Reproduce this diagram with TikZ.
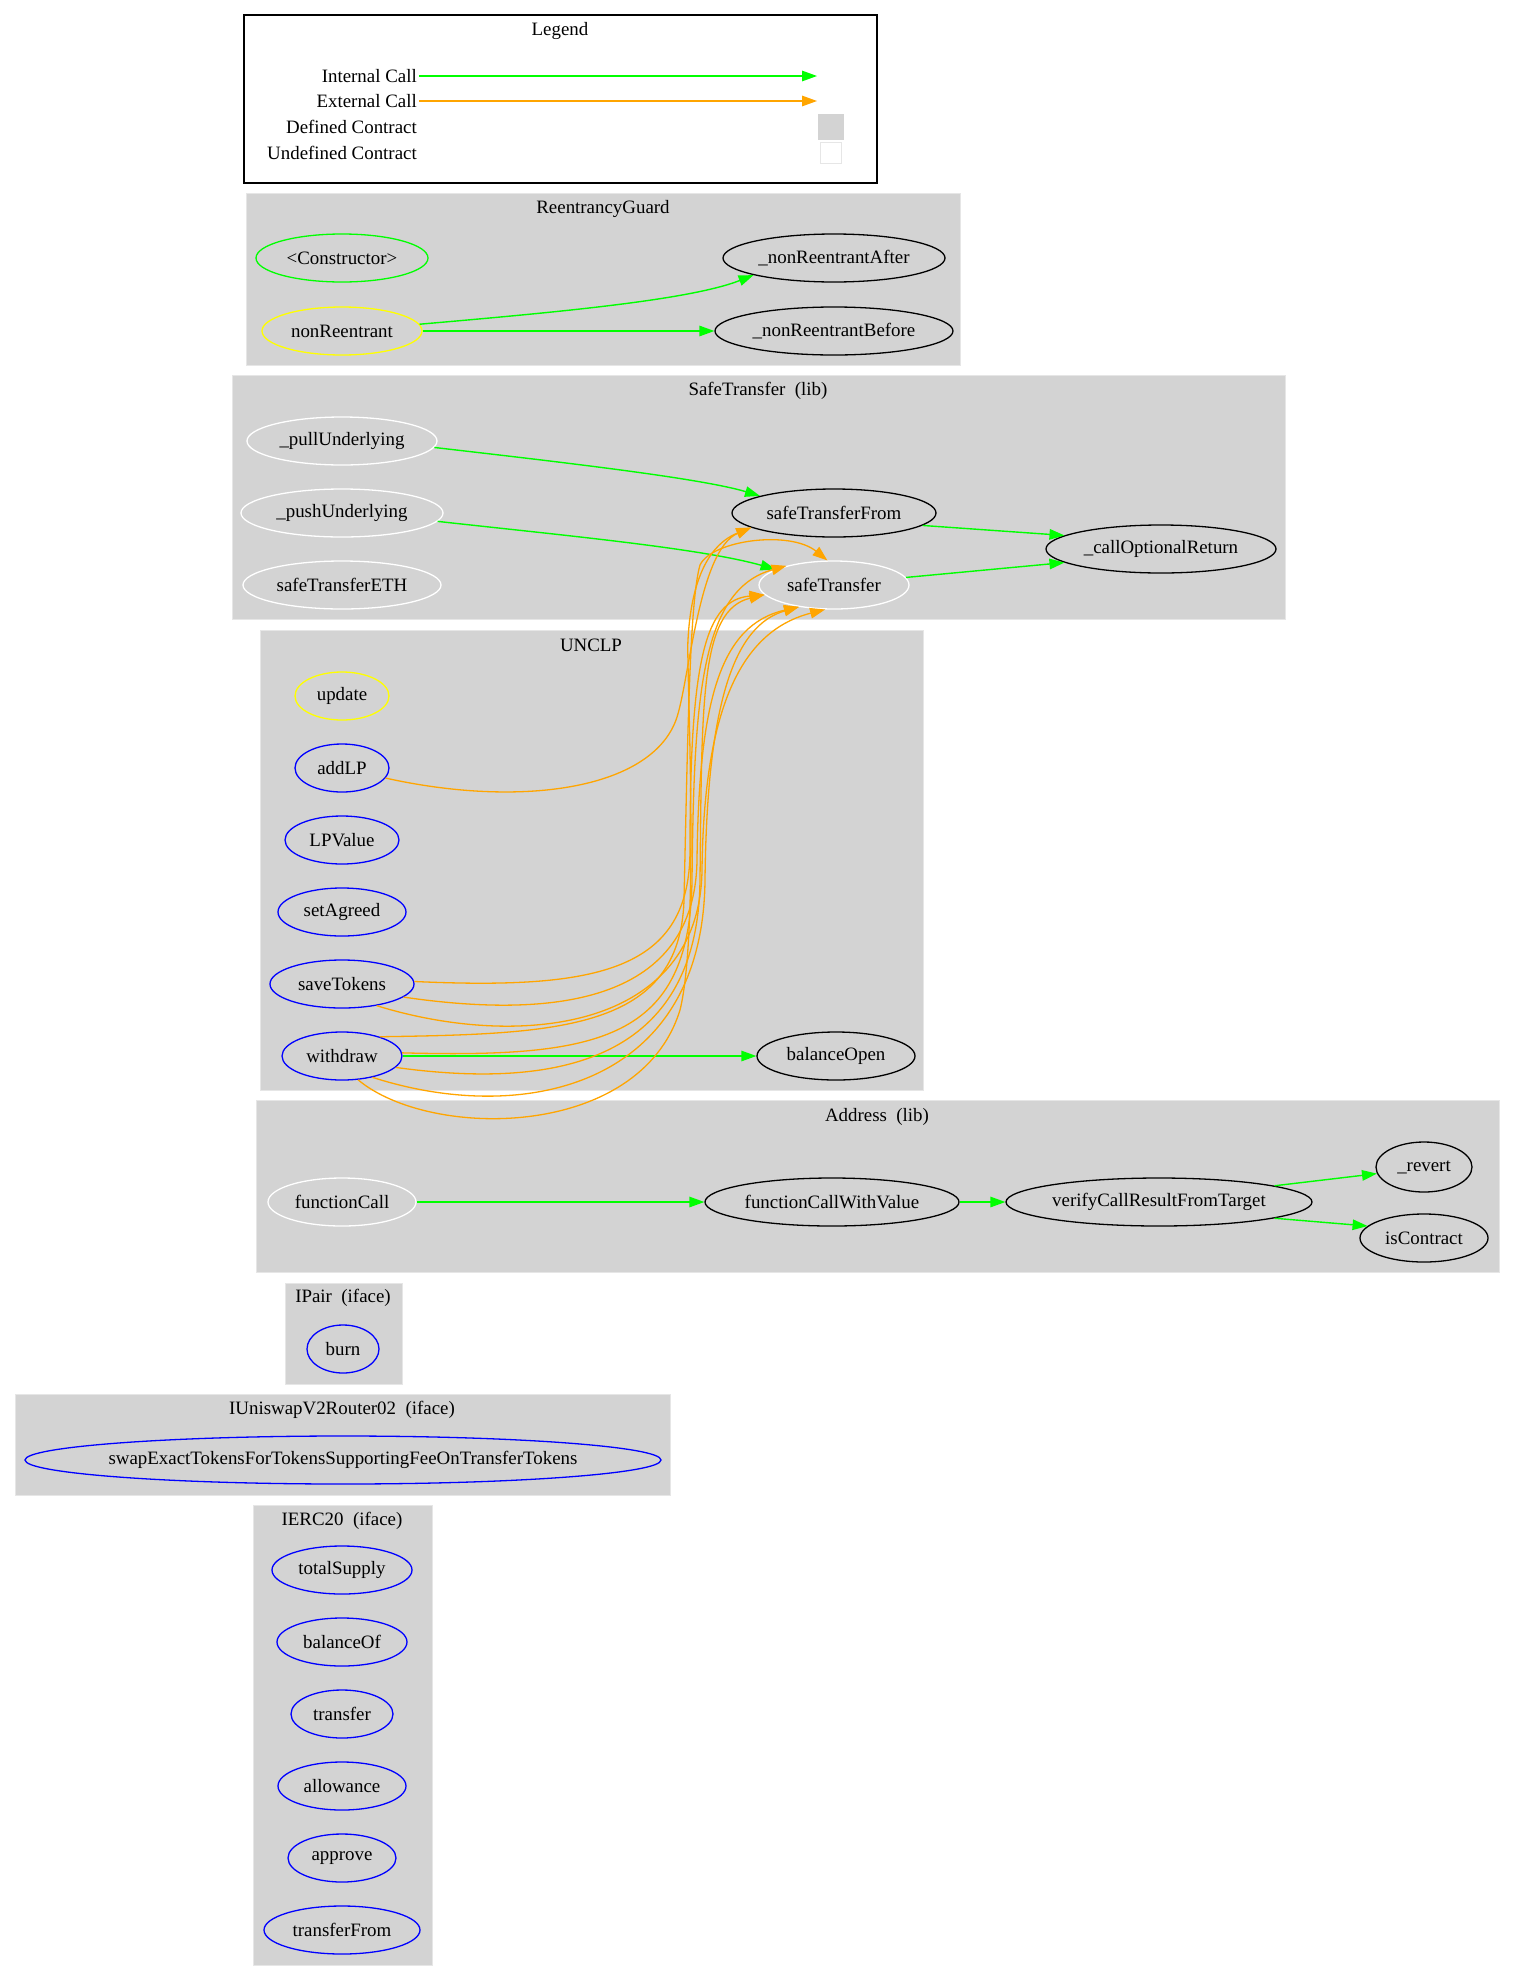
\documentclass[tikz,border=0pt]{standalone}
\usepackage{fontspec}
\setmainfont{Liberation Serif}
\usetikzlibrary{arrows.meta,shapes.geometric}
\definecolor{clgray}{HTML}{D3D3D3}
\definecolor{clborder}{HTML}{E6E6E6}
\definecolor{ggreen}{HTML}{00FF00}
\definecolor{gorange}{HTML}{FFA500}
\definecolor{gyellow}{HTML}{FFFF00}
\definecolor{gblue}{HTML}{0000FF}
\newcommand\grfont{\fontsize{18.9}{22.5}\selectfont}
\newcommand\nt[1]{\makebox[0pt]{#1}}
\begin{document}
\begin{tikzpicture}[x=1pt,y=-1pt,
  every node/.style={font=\grfont},
  fn/.style={ellipse, draw=#1, line width=1.3pt, inner sep=0pt, minimum height=48pt},
  cl/.style={fill=clgray, draw=clborder, line width=1pt},
  ttl/.style={inner sep=0pt},
  int/.style={draw=ggreen, line width=1.4pt, -{Triangle[length=15pt,width=10.5pt]}},
  ext/.style={draw=gorange, line width=1.3pt, -{Triangle[length=15pt,width=10.5pt]}},
]
\useasboundingbox[fill=white] (0,0) rectangle (1513,1981);

% ---------- Legend ----------
\draw[line width=1.3pt] (244,15) rectangle (877,183);
\node[ttl] (legtitle) at (560,31) {Legend};
\node[anchor=east, inner sep=2pt] (lt1) at (419,76) {Internal Call};
\node[anchor=east, inner sep=2pt] (lt2) at (419,101) {External Call};
\node[anchor=east, inner sep=2pt] (lt3) at (419,127) {Defined Contract};
\node[anchor=east, inner sep=2pt] (lt4) at (419,153) {Undefined Contract};
\coordinate (lh1) at (817,76);
\coordinate (lh2) at (817,101);
\draw[int] (lt1.east) -- (lh1);
\draw[ext] (lt2.east) -- (lh2);
\node[rectangle, fill=clgray, draw=clgray, minimum width=25pt, minimum height=25pt, inner sep=0pt] (ldef) at (831,127) {};
\node[rectangle, fill=white, draw=clborder, line width=1.3pt, minimum width=21pt, minimum height=21pt, inner sep=0pt] (lundef) at (831,153) {};

% ---------- Clusters ----------
\fill[cl] (246,193) rectangle (960,365);
\node[ttl] (tRG) at (603,209) {ReentrancyGuard};
\fill[cl] (232,375) rectangle (1285,619);
\node[ttl] (tST) at (758,391) {SafeTransfer\ \ (lib)};
\fill[cl] (260,630) rectangle (923,1090);
\node[ttl] (tUN) at (591,645) {UNCLP};
\fill[cl] (256,1100) rectangle (1499,1272);
\node[ttl] (tAD) at (877,1117) {Address\ \ (lib)};
\fill[cl] (285,1283) rectangle (402,1384);
\node[ttl] (tIP) at (343,1298) {IPair\ \ (iface)};
\fill[cl] (15,1394) rectangle (670,1495);
\node[ttl] (tIU) at (342,1410) {IUniswapV2Router02\ \ (iface)};
\fill[cl] (253,1505) rectangle (432,1965);
\node[ttl] (tIE) at (342,1521) {IERC20\ \ (iface)};

% ---------- ReentrancyGuard ----------
\node[fn=ggreen, minimum width=172pt] (ctor) at (342,258) {\nt{\textless Constructor\textgreater}};
\node[fn=gyellow, minimum width=160pt] (nR) at (342,331) {\nt{nonReentrant}};
\node[fn=black, minimum width=222pt] (nRA) at (834,258) {\nt{\_nonReentrantAfter}};
\node[fn=black, minimum width=238pt] (nRB) at (834,331) {\nt{\_nonReentrantBefore}};

% ---------- SafeTransfer ----------
\node[fn=white, minimum width=190pt] (pU) at (342,441) {\nt{\_pullUnderlying}};
\node[fn=white, minimum width=202pt] (pushU) at (342,513) {\nt{\_pushUnderlying}};
\node[fn=white, minimum width=198pt] (sTE) at (342,585) {\nt{safeTransferETH}};
\node[fn=black, minimum width=204pt] (sTF) at (834,513) {\nt{safeTransferFrom}};
\node[fn=white, minimum width=150pt] (sT) at (834,585) {\nt{safeTransfer}};
\node[fn=black, minimum width=230pt] (cOR) at (1161,549) {\nt{\_callOptionalReturn}};

% ---------- UNCLP ----------
\node[fn=gyellow, minimum width=94pt] (update) at (342,696) {\nt{update}};
\node[fn=gblue, minimum width=94pt] (addLP) at (342,768) {\nt{addLP}};
\node[fn=gblue, minimum width=114pt] (LPValue) at (342,840) {\nt{LPValue}};
\node[fn=gblue, minimum width=128pt] (setAgreed) at (342,912) {\nt{setAgreed}};
\node[fn=gblue, minimum width=144pt] (sv) at (342,984) {\nt{saveTokens}};
\node[fn=gblue, minimum width=120pt] (wd) at (342,1056) {\nt{withdraw}};
\node[fn=black, minimum width=158pt] (bO) at (836,1056) {\nt{balanceOpen}};

% ---------- Address ----------
\node[fn=white, minimum width=148pt] (fc) at (342,1202) {\nt{functionCall}};
\node[fn=black, minimum width=254pt] (fCWV) at (832,1202) {\nt{functionCallWithValue}};
\node[fn=black, minimum width=306pt] (vC) at (1159,1202) {\nt{verifyCallResultFromTarget}};
\node[fn=black, minimum width=96pt, minimum height=50pt] (rev) at (1424,1167) {\nt{\_revert}};
\node[fn=black, minimum width=128pt] (iC) at (1424,1238) {\nt{isContract}};

% ---------- IPair ----------
\node[fn=gblue, minimum width=72pt] (burn) at (343,1349) {\nt{burn}};

% ---------- IUniswapV2Router02 ----------
\node[fn=gblue, minimum width=636pt] (swap) at (343,1460) {\nt{swapExactTokensForTokensSupportingFeeOnTransferTokens}};

% ---------- IERC20 ----------
\node[fn=gblue, minimum width=140pt] (tS) at (342,1570) {\nt{totalSupply}};
\node[fn=gblue, minimum width=130pt] (bOf) at (342,1642) {\nt{balanceOf}};
\node[fn=gblue, minimum width=102pt] (tr) at (342,1714) {\nt{transfer}};
\node[fn=gblue, minimum width=128pt] (al) at (342,1786) {\nt{allowance}};
\node[fn=gblue, minimum width=108pt] (ap) at (342,1858) {\nt{approve}};
\node[fn=gblue, minimum width=156pt] (tF) at (342,1930) {\nt{transferFrom}};

% ---------- Internal calls ----------
\draw[int] (nR.5) .. controls (560,312) and (690,300) .. (nRA.192);
\draw[int] (nR.east) -- (nRB.west);
\draw[int] (pU.-4) .. controls (560,462) and (700,478) .. (sTF.167);
\draw[int] (pushU.-5) .. controls (560,535) and (700,548) .. (sT.165);
\draw[int] (sTF.-8) -- (cOR.172);
\draw[int] (sT.6) -- (cOR.188);
\draw[int] (wd.east) -- (bO.west);
\draw[int] (fc.east) -- (fCWV.west);
\draw[int] (fCWV.east) -- (vC.west);
\draw[int] (vC.8) -- (rev.188);
\draw[int] (vC.-8) -- (iC.168);

% ---------- External calls ----------
\draw[ext] (addLP.-13) .. controls (520,808) and (650,790) .. (676,720)
  .. controls (689,685) and (698,550) .. (sTF.190);
\draw[ext] (sv.2) .. controls (600,990) and (690,970) .. (690,850)
  .. controls (690,660) and (705,600) .. (sT.188);
\draw[ext] (sv.-12) .. controls (560,1020) and (695,1000) .. (697,860)
  .. controls (699,700) and (720,625) .. (sT.212);
\draw[ext] (sv.-32) .. controls (520,1050) and (700,1030) .. (702,870)
  .. controls (704,700) and (745,630) .. (sT.250);
\draw[ext] (wd.27) .. controls (560,1034) and (680,1030) .. (684,900)
  .. controls (688,720) and (690,600) .. (700,565)
  .. controls (712,540) and (790,530) .. (sT.105);
\draw[ext] (wd.3) .. controls (600,1058) and (690,1040) .. (692,880)
  .. controls (694,700) and (700,590) .. (sT.158);
\draw[ext] (wd.-12) .. controls (560,1090) and (698,1060) .. (700,880)
  .. controls (702,700) and (700,610) .. (sT.188);
\draw[ext] (wd.-35) .. controls (520,1125) and (703,1090) .. (705,880)
  .. controls (707,700) and (735,625) .. (sT.212);
\draw[ext] (wd.-56) .. controls (430,1140) and (640,1140) .. (680,1010)
  .. controls (700,930) and (686,660) .. (688,640)
  .. controls (690,600) and (700,548) .. (sTF.190);
\end{tikzpicture}
\end{document}
